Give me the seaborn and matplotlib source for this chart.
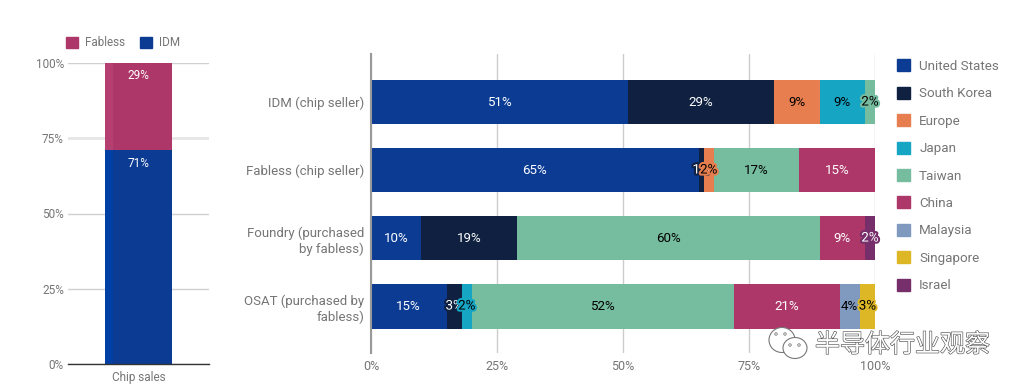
import matplotlib
matplotlib.use("Agg")
import matplotlib.pyplot as plt
import matplotlib.patheffects as pe
from matplotlib.patches import Rectangle, Ellipse, Patch
import seaborn as sns

W, H = 1022, 390

segments = ["Chip sales"]
left_series = ["IDM", "Fabless"]
left_values = [71, 29]
left_colors = ["#0B3B93", "#AC3768"]
left_strip = ["#0040A5", "#B53F70"]

categories = ["IDM (chip seller)", "Fabless (chip seller)",
              "Foundry (purchased\nby fabless)", "OSAT (purchased by\nfabless)"]
regions = ["United States", "South Korea", "Europe", "Japan", "Taiwan",
           "China", "Malaysia", "Singapore", "Israel"]
united_states = [51, 65, 10, 15]
south_korea = [29, 1, 19, 3]
europe = [9, 2, 0, 0]
japan = [9, 0, 0, 2]
taiwan = [2, 17, 60, 52]
china = [0, 15, 9, 21]
malaysia = [0, 0, 0, 4]
singapore = [0, 0, 0, 3]
israel = [0, 0, 2, 0]
region_values = [united_states, south_korea, europe, japan, taiwan,
                 china, malaysia, singapore, israel]
region_colors = ["#0B3B93", "#0F2040", "#E67E4F", "#17A5C4", "#76BC9F",
                 "#AC3768", "#7F99BF", "#DDB725", "#772F6C"]
label_colors = ["white", "white", "black", "black", "black",
                "white", "black", "black", "white"]
x_ticks = [0, 25, 50, 75, 100]
tick_labels = ["0%", "25%", "50%", "75%", "100%"]
watermark = "半导体行业观察"

sns.set_theme(style="white")
plt.rcParams["font.family"] = ["Roboto", "Noto Sans CJK SC", "DejaVu Sans"]
GREY = "#757575"

fig = plt.figure(figsize=(W / 100, H / 100), dpi=100, facecolor="white")


def box(x0, y0, x1, y1):
    return [x0 / W, 1 - y1 / H, (x1 - x0) / W, (y1 - y0) / H]


# ---------- left chart ----------
axl = fig.add_axes(box(68, 63, 209, 364))
bottom = 0
for name, val, col, strip in zip(left_series, left_values, left_colors, left_strip):
    sns.barplot(x=segments, y=[val], bottom=bottom, color=col, saturation=1,
                width=0.48, errorbar=None, linewidth=0, ax=axl, zorder=3)
    cont = axl.containers[-1]
    for b in cont:
        axl.add_patch(Rectangle((b.get_x(), b.get_y()), b.get_width() * 0.13,
                                b.get_height(), facecolor=strip, linewidth=0, zorder=3.2))
    axl.bar_label(cont, labels=[f"{val}%"], label_type="edge", padding=-14,
                  color="white", fontsize=8.5, zorder=5)
    bottom += val
axl.set_xlim(-0.5, 0.5)
axl.set_ylim(0, 100)
axl.set_yticks(x_ticks, tick_labels)
axl.tick_params(axis="both", length=0, labelsize=8.5, labelcolor=GREY)
axl.tick_params(axis="y", pad=3)
axl.tick_params(axis="x", pad=5)
axl.grid(axis="y", color="#D0D0D0", linewidth=1, zorder=0)
axl.yaxis.get_gridlines()[3].set(color="#E6E6E6", linewidth=2)
axl.set_axisbelow(True)
for s in ["top", "right", "left"]:
    axl.spines[s].set_visible(False)
axl.spines["bottom"].set(color="#333333", linewidth=1, zorder=4)
axl.set_xlabel("")
axl.set_ylabel("")
fig.legend(handles=[Patch(color=left_colors[1], label=left_series[1]),
                    Patch(color=left_colors[0], label=left_series[0])],
           loc="center", bbox_to_anchor=(123 / W, 1 - 43 / H), ncol=2, frameon=False,
           fontsize=8.4, labelcolor=GREY, handlelength=1.0, handleheight=1.0,
           handletextpad=0.6, columnspacing=1.3)

# ---------- right chart ----------
axr = fig.add_axes(box(371, 54, 875, 353))
start = [0, 0, 0, 0]
for name, vals, col, lab in zip(regions, region_values, region_colors, label_colors):
    sns.barplot(x=vals, y=categories, left=start, color=col, saturation=1, orient="y",
                width=0.66, errorbar=None, linewidth=0, ax=axr, zorder=3)
    cont = axr.containers[-1]
    texts = axr.bar_label(cont, labels=[f"{v}%" if v else "" for v in vals],
                          label_type="center", color=lab, fontsize=9.6, zorder=6)
    for t, v in zip(texts, vals):
        if 0 < v <= 3:
            t.set_path_effects([pe.withStroke(linewidth=3, foreground=col)])
    start = [a + b for a, b in zip(start, vals)]
axr.set_xlim(0, 100)
axr.set_ylim(3.69, -0.706)
axr.set_xticks(x_ticks, tick_labels)
axr.tick_params(axis="both", length=0, labelcolor=GREY)
axr.tick_params(axis="x", pad=5, labelsize=9)
axr.tick_params(axis="y", pad=5, labelsize=9.5)
axr.grid(axis="x", color="#CCCCCC", linewidth=1, zorder=0)
axr.set_axisbelow(True)
for s in ["top", "right", "bottom"]:
    axr.spines[s].set_visible(False)
axr.spines["left"].set(color="#999999", linewidth=1.5, zorder=5)
axr.set_xlabel("")
axr.set_ylabel("")
for t in axr.get_yticklabels():
    t.set_linespacing(1.25)

fig.legend(handles=[Patch(color=c, label=r) for c, r in zip(region_colors, regions)],
           loc="upper left", bbox_to_anchor=(896.5 / W, 1 - 59.5 / H), frameon=False,
           fontsize=9.6, labelcolor=GREY, handlelength=1.0, handleheight=1.0,
           handletextpad=0.7, labelspacing=1.04, borderaxespad=0, borderpad=0, ncol=1)

# ---------- watermark ----------
fig.text(815 / W, 1 - 345 / H, watermark, fontsize=18, color="white", va="center", ha="left",
         family=["Noto Sans CJK SC", "DejaVu Sans"], zorder=10,
         path_effects=[pe.withStroke(linewidth=0.9, foreground="#555555")])
for cx, cy, w, h in [(782, 340, 26, 25), (795, 348, 24, 21)]:
    fig.add_artist(Ellipse((cx / W, 1 - cy / H), w / W, h / H, transform=fig.transFigure,
                           facecolor="white", edgecolor="#777777", linewidth=0.8, zorder=9))
for cx, cy in [(776, 334), (785, 334), (790, 345), (799, 345)]:
    fig.add_artist(Ellipse((cx / W, 1 - cy / H), 2.5 / W, 2.5 / H, transform=fig.transFigure,
                           facecolor="white", edgecolor="#777777", linewidth=0.6, zorder=9.5))

fig.savefig("out.png", dpi=100, facecolor="white")
